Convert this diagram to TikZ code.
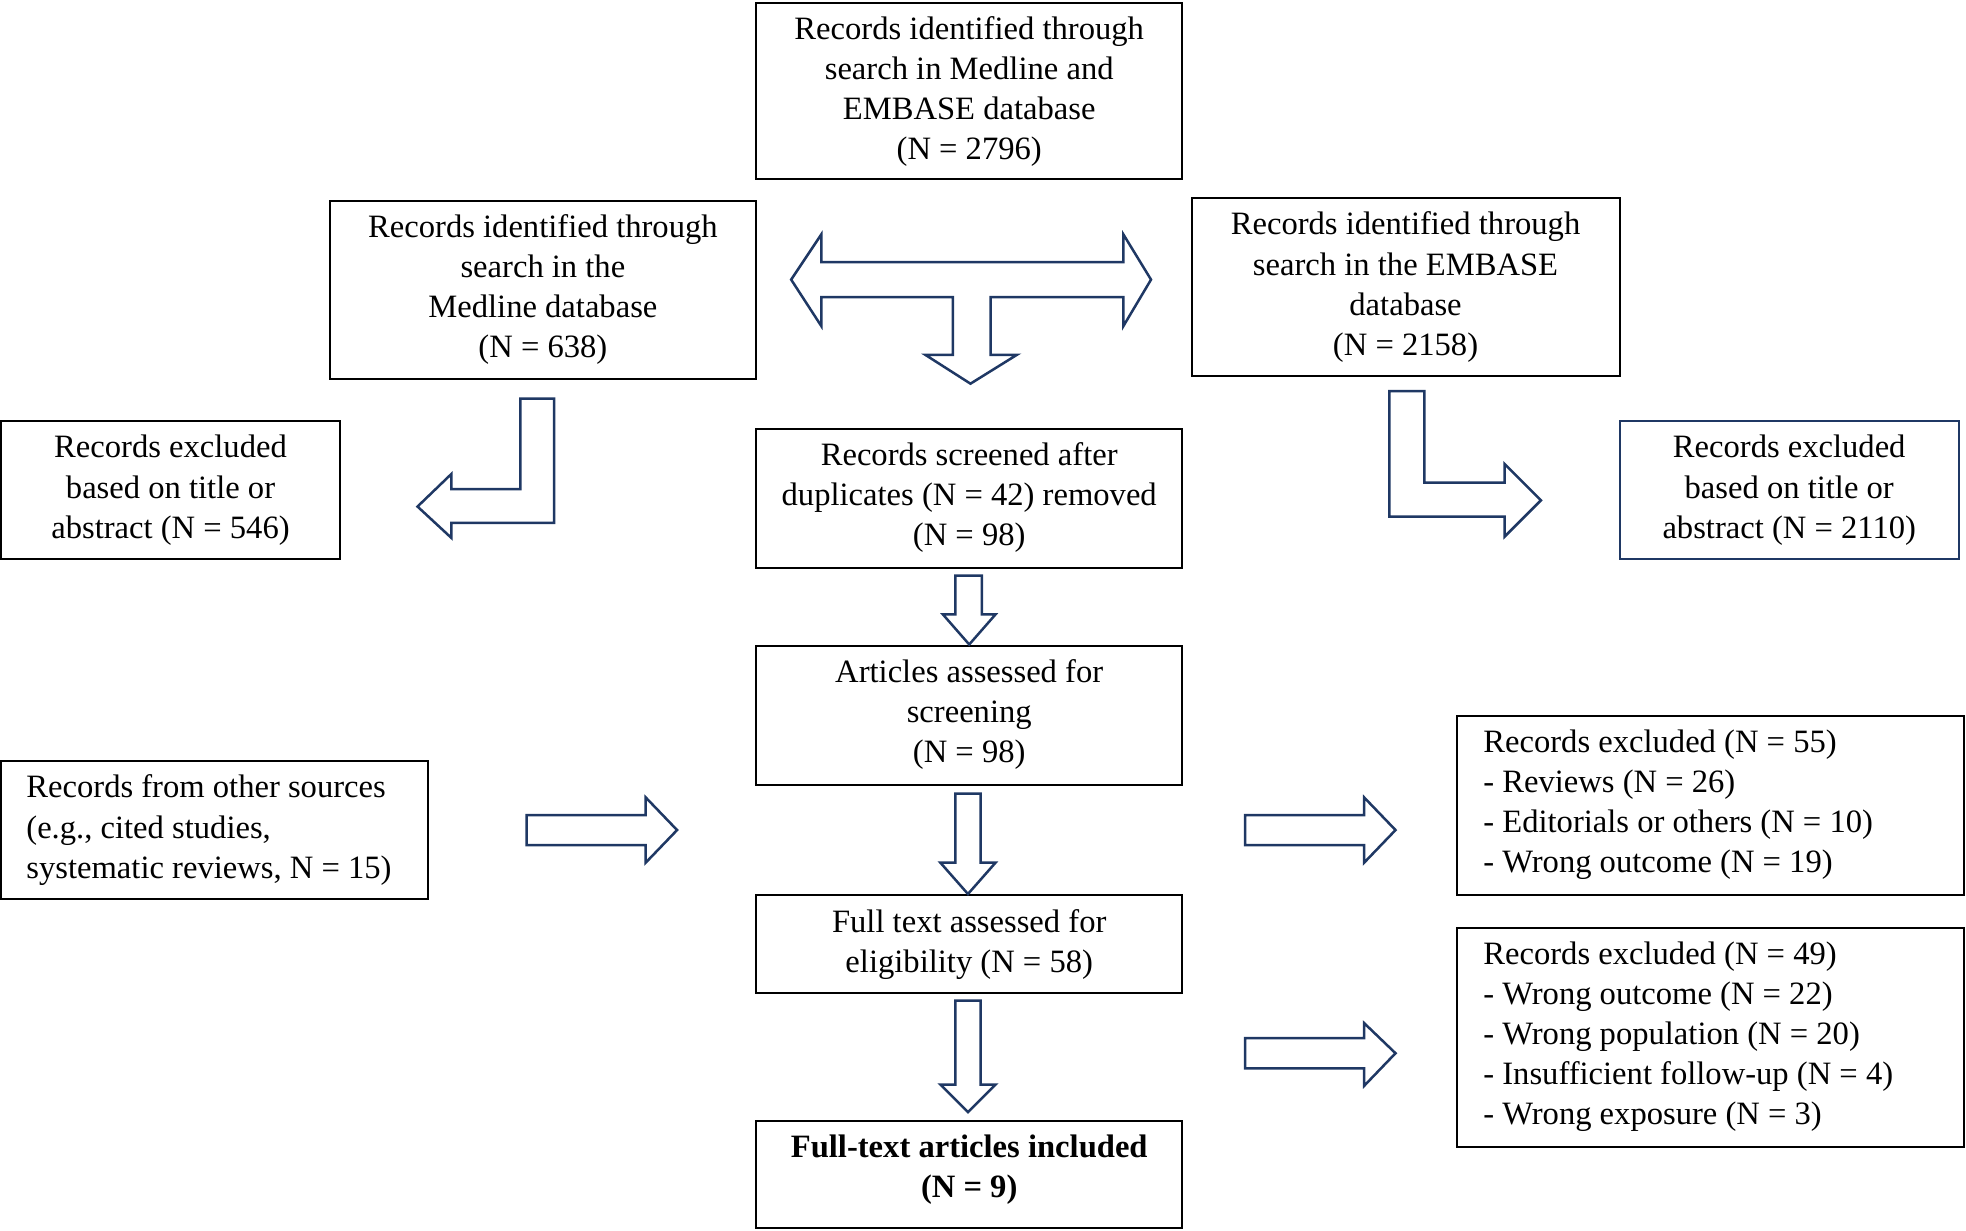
\documentclass[tikz,border=0pt]{standalone}
\usepackage{fontspec}
\setmainfont{Liberation Serif}
\begin{document}
\begin{tikzpicture}[x=0.5pt,y=-0.5pt,
  bx/.style={draw=black,line width=0.8pt,inner sep=0pt},
  txt/.style={align=center,font=\fontsize{13}{16}\selectfont},
  ltxt/.style={align=left,font=\fontsize{13}{16}\selectfont,anchor=west},
  arr/.style={draw=arrowc,fill=white,line width=1pt,line join=miter}]
\definecolor{arrowc}{HTML}{1F3864}
\useasboundingbox (0,0) rectangle (1568,981);
% boxes
\draw[bx] (603,2) rectangle (943,143); \node[txt] (top) at (773,73) {Records identified through\\search in Medline and\\EMBASE database\\(N = 2796)};
\draw[bx] (263,160) rectangle (603,302); \node[txt] (med) at (433,231) {Records identified through\\search in the\\Medline database\\(N = 638)};
\draw[bx] (951,158) rectangle (1292,300); \node[txt] (emb) at (1121,229) {Records identified through\\search in the EMBASE\\database\\(N = 2158)};
\draw[bx] (1,336) rectangle (271,446); \node[txt] (exl) at (136,391) {Records excluded\\based on title or\\abstract (N = 546)};
\draw[bx] (603,342) rectangle (943,453); \node[txt] (scr) at (773,397) {Records screened after\\duplicates (N = 42) removed\\(N = 98)};
\draw[bx,draw=arrowc] (1292,336) rectangle (1562,446); \node[txt] (exr) at (1427,391) {Records excluded\\based on title or\\abstract (N = 2110)};
\draw[bx] (603,515) rectangle (943,626); \node[txt] (art) at (773,570) {Articles assessed for\\screening\\(N = 98)};
\draw[bx] (1,607) rectangle (341,717); \node[ltxt] (oth) at (14,662) {Records from other sources\\(e.g., cited studies,\\systematic reviews, N = 15)};
\draw[bx] (1162,571) rectangle (1566,714); \node[ltxt] (e55) at (1176,642) {Records excluded (N = 55)\\- Reviews (N = 26)\\- Editorials or others (N = 10)\\- Wrong outcome (N = 19)};
\draw[bx] (603,714) rectangle (943,792); \node[txt] (ful) at (773,753) {Full text assessed for\\eligibility (N = 58)};
\draw[bx] (1162,740) rectangle (1566,915); \node[ltxt] (e49) at (1176,827) {Records excluded (N = 49)\\- Wrong outcome (N = 22)\\- Wrong population (N = 20)\\- Insufficient follow-up (N = 4)\\- Wrong exposure (N = 3)};
\draw[bx] (603,894) rectangle (943,979); \node[txt,font=\fontsize{13}{16}\selectfont\bfseries] (inc) at (773,933) {Full-text articles included\\(N = 9)};
% arrows
\draw[arr] (631,223)--(655,187)--(655,209)--(896,209)--(896,187)--(918,223)--(896,260)--(896,237)--(790,237)--(790,283)--(811,283)--(774,306)--(738,283)--(760,283)--(760,237)--(655,237)--(655,260)--cycle;
\draw[arr] (415,318)--(442,318)--(442,417)--(360,417)--(360,429)--(333,404)--(360,378)--(360,390)--(415,390)--cycle;
\draw[arr] (1108,312)--(1136,312)--(1136,385)--(1200,385)--(1200,370)--(1229,399)--(1200,428)--(1200,412)--(1108,412)--cycle;
\draw[arr] (762,459)--(783,459)--(783,490)--(794,490)--(773,514)--(752,490)--(762,490)--cycle;
\draw[arr] (762,633)--(782,633)--(782,688)--(794,688)--(772,713)--(750,688)--(762,688)--cycle;
\draw[arr] (762,798)--(782,798)--(782,865)--(794,865)--(772,887)--(750,865)--(762,865)--cycle;
\draw[arr] (420,650)--(515,650)--(515,636)--(540,662)--(515,688)--(515,674)--(420,674)--cycle;
\draw[arr] (993,650)--(1088,650)--(1088,636)--(1113,662)--(1088,688)--(1088,674)--(993,674)--cycle;
\draw[arr] (993,828)--(1088,828)--(1088,816)--(1113,840)--(1088,866)--(1088,852)--(993,852)--cycle;
\end{tikzpicture}
\end{document}
